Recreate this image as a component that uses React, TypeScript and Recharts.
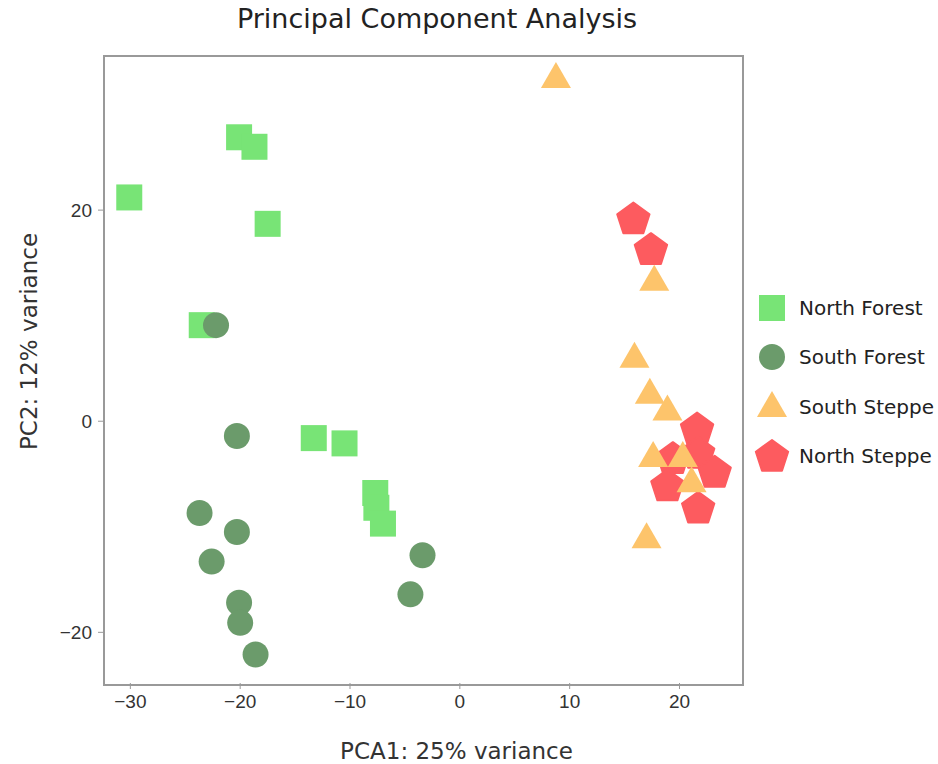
import React from "react";
import { ScatterChart, Scatter, XAxis, YAxis } from "recharts";

const northForest = [
  { x: -30.1, y: 21.2 },
  { x: -20.1, y: 26.9 },
  { x: -18.7, y: 26.0 },
  { x: -17.5, y: 18.7 },
  { x: -23.5, y: 9.1 },
  { x: -13.3, y: -1.6 },
  { x: -10.5, y: -2.1 },
  { x: -7.7, y: -6.8 },
  { x: -7.6, y: -8.2 },
  { x: -7.0, y: -9.7 },
];

const southForest = [
  { x: -22.2, y: 9.1 },
  { x: -20.3, y: -1.4 },
  { x: -23.7, y: -8.7 },
  { x: -20.3, y: -10.5 },
  { x: -22.6, y: -13.3 },
  { x: -20.1, y: -17.2 },
  { x: -20.0, y: -19.1 },
  { x: -18.6, y: -22.1 },
  { x: -3.4, y: -12.7 },
  { x: -4.5, y: -16.4 },
];

const northSteppe = [
  { x: 15.8, y: 19.2 },
  { x: 17.4, y: 16.3 },
  { x: 21.6, y: -0.7 },
  { x: 19.4, y: -3.5 },
  { x: 21.7, y: -3.0 },
  { x: 23.2, y: -4.8 },
  { x: 18.9, y: -6.1 },
  { x: 21.7, y: -8.2 },
];

const southSteppe = [
  { x: 8.75, y: 32.5 },
  { x: 17.7, y: 13.3 },
  { x: 15.9, y: 6.0 },
  { x: 17.3, y: 2.6 },
  { x: 18.9, y: 1.0 },
  { x: 17.6, y: -3.4 },
  { x: 20.3, y: -3.4 },
  { x: 21.1, y: -5.8 },
  { x: 17.0, y: -11.1 },
];

const xTicks = [-30, -20, -10, 0, 10, 20];
const yTicks = [-20, 0, 20];

const COLORS = {
  northForest: "#78e476",
  southForest: "#6b9b6b",
  southSteppe: "#fdc46b",
  northSteppe: "#fd5b5f",
};

type Kind = "square" | "circle" | "triangle" | "pentagon";

function Marker({ kind, cx, cy, color }: { kind: Kind; cx: number; cy: number; color: string }) {
  if (kind === "square") {
    return <rect x={cx - 13} y={cy - 13} width={26} height={26} fill={color} />;
  }
  if (kind === "circle") {
    return <circle cx={cx} cy={cy} r={13} fill={color} />;
  }
  if (kind === "triangle") {
    const h = 26;
    const w = 30;
    const pts = `${cx},${cy - h * 0.62} ${cx + w / 2},${cy + h * 0.38} ${cx - w / 2},${cy + h * 0.38}`;
    return <polygon points={pts} fill={color} />;
  }
  const r = 17;
  const pts = [0, 1, 2, 3, 4]
    .map((i) => {
      const a = -Math.PI / 2 + (i * 2 * Math.PI) / 5;
      return `${cx + r * Math.cos(a)},${cy + r * Math.sin(a) + 1}`;
    })
    .join(" ");
  return <polygon points={pts} fill={color} strokeLinejoin="round" stroke={color} strokeWidth={2} />;
}

const legendItems: { name: string; kind: Kind; color: string }[] = [
  { name: "North Forest", kind: "square", color: COLORS.northForest },
  { name: "South Forest", kind: "circle", color: COLORS.southForest },
  { name: "South Steppe", kind: "triangle", color: COLORS.southSteppe },
  { name: "North Steppe", kind: "pentagon", color: COLORS.northSteppe },
];

const minus = (v: number) => String(v).replace("-", "\u2212");

const tickStyle = { fontFamily: "Liberation Sans", fontSize: 19, fill: "#333" };
const axisTitle = { fontFamily: "DejaVu Sans", fontSize: 23, fill: "#333" };

export default function App() {
  return (
    <div style={{ position: "absolute", left: 0, top: 0, width: 938, height: 764, background: "#fff" }}>
      <div
        style={{
          position: "absolute",
          left: 0,
          top: 3,
          width: 874,
          textAlign: "center",
          fontFamily: "DejaVu Sans",
          fontSize: 27,
          color: "#222",
        }}
      >
        Principal Component Analysis
      </div>
      <ScatterChart width={938} height={764} margin={{ top: 56, right: 197, bottom: 51, left: 44 }}>
        <XAxis
          type="number"
          dataKey="x"
          domain={[-32.4, 25.6]}
          ticks={xTicks}
          allowDataOverflow
          height={30}
          axisLine={false}
          stroke="#999"
          tick={tickStyle}
          tickSize={6}
          tickMargin={6}
          tickFormatter={minus}
          label={{
            value: "PCA1: 25% variance",
            position: "bottom",
            offset: 30,
            dx: 34,
            style: axisTitle,
          }}
        />
        <YAxis
          type="number"
          dataKey="y"
          domain={[-24.8, 34.6]}
          ticks={yTicks}
          allowDataOverflow
          width={60}
          axisLine={false}
          stroke="#999"
          tick={tickStyle}
          tickSize={6}
          tickMargin={6}
          tickFormatter={minus}
          label={{
            value: "PC2: 12% variance",
            angle: -90,
            position: "left",
            offset: -12,
            dx: -27,
            dy: -28,
            style: { ...axisTitle, textAnchor: "middle" },
          }}
        />
        <Scatter
          name="North Forest"
          data={northForest}
          isAnimationActive={false}
          shape={(p: any) => <Marker kind="square" cx={p.cx} cy={p.cy} color={COLORS.northForest} />}
        />
        <Scatter
          name="South Forest"
          data={southForest}
          isAnimationActive={false}
          shape={(p: any) => <Marker kind="circle" cx={p.cx} cy={p.cy} color={COLORS.southForest} />}
        />
        <Scatter
          name="North Steppe"
          data={northSteppe}
          isAnimationActive={false}
          shape={(p: any) => <Marker kind="pentagon" cx={p.cx} cy={p.cy} color={COLORS.northSteppe} />}
        />
        <Scatter
          name="South Steppe"
          data={southSteppe}
          isAnimationActive={false}
          shape={(p: any) => <Marker kind="triangle" cx={p.cx} cy={p.cy} color={COLORS.southSteppe} />}
        />
      </ScatterChart>
      {/* plot frame */}
      <div
        style={{
          position: "absolute",
          left: 103,
          top: 55,
          width: 637,
          height: 627,
          border: "2px solid #999",
          pointerEvents: "none",
        }}
      />
      <div
        style={{
          position: "absolute",
          left: 752,
          top: 283,
          fontFamily: "DejaVu Sans",
          fontSize: 20,
          color: "#222",
        }}
      >
        {legendItems.map((it) => (
          <div key={it.name} style={{ display: "flex", alignItems: "center", height: 49.5 }}>
            <svg width={40} height={40}>
              <Marker kind={it.kind} cx={20} cy={20} color={it.color} />
            </svg>
            <span style={{ marginLeft: 7 }}>{it.name}</span>
          </div>
        ))}
      </div>
    </div>
  );
}
